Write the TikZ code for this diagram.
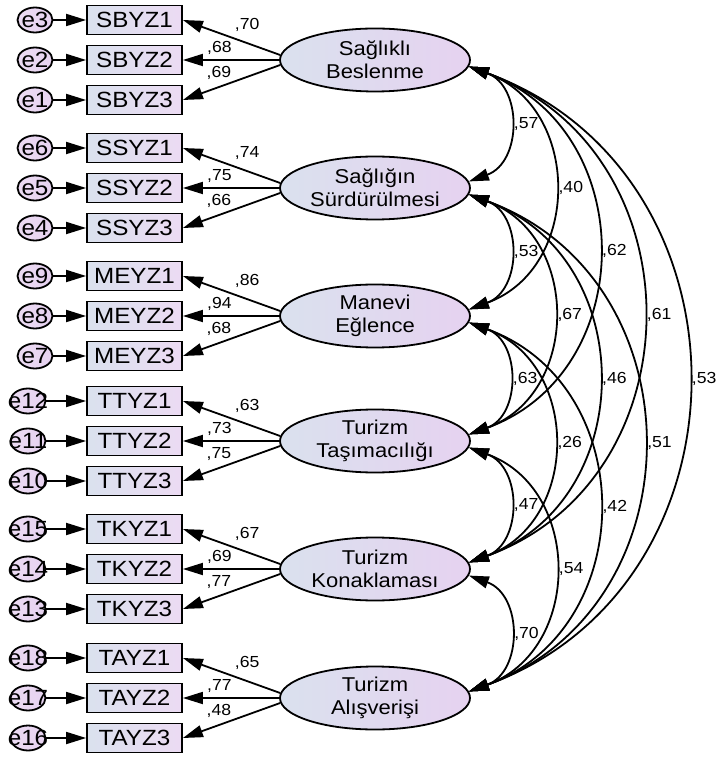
\documentclass[tikz,border=0pt]{standalone}
\usepackage{fontspec}
\setmainfont{Liberation Sans}[FakeStretch=1.1]
\usetikzlibrary{arrows.meta,shapes.geometric}

\definecolor{boxl}{RGB}{218,225,238}
\definecolor{boxr}{RGB}{236,219,243}
\definecolor{latr}{RGB}{230,210,240}

\tikzset{
  obs/.style={draw,line width=0.9pt,left color=boxl,right color=boxr,
    minimum width=47.5pt,minimum height=14.5pt,inner sep=0pt,
    font=\fontsize{11}{12}\selectfont},
  lat/.style={ellipse,draw,line width=0.9pt,left color=boxl,right color=latr,
    minimum width=95pt,minimum height=31.5pt,inner sep=0pt,align=center,
    font=\fontsize{10}{11.5}\selectfont},
  err/.style={ellipse,draw,line width=0.9pt,left color=boxr,right color=latr,
    minimum width=17.5pt,minimum height=12.5pt,inner sep=0pt,
    font=\fontsize{11}{12}\selectfont,
    execute at begin node={\hbox to 0pt\bgroup\hss},
    execute at end node={\hss\egroup}},
  lbl/.style={font=\fontsize{8}{9}\selectfont,inner sep=1pt},
  cov/.style={<->,out=-20,in=20,looseness=1.27},
}

\begin{document}
\begin{tikzpicture}[x=0.5pt,y=0.5pt,line width=0.9pt,>={Triangle[length=10pt,width=6pt]}]
\useasboundingbox (0,0) rectangle (716,-758);
% latent variables
    \node[lat] (sb) at (375,-60)  {Sağlıklı\\Beslenme};
    \node[lat] (ss) at (375,-188) {Sağlığın\\Sürdürülmesi};
    \node[lat] (me) at (375,-316) {Manevi\\Eğlence};
    \node[lat] (tt) at (375,-441) {Turizm\\Taşımacılığı};
    \node[lat] (tk) at (375,-569) {Turizm\\Konaklaması};
    \node[lat] (ta) at (375,-698) {Turizm\\Alışverişi};
% observed variables
    \node[obs] (sb1) at (134.5,-20)  {SBYZ1};
    \node[obs] (sb2) at (134.5,-60)  {SBYZ2};
    \node[obs] (sb3) at (134.5,-100) {SBYZ3};
    \node[obs] (ss1) at (134.5,-148) {SSYZ1};
    \node[obs] (ss2) at (134.5,-188) {SSYZ2};
    \node[obs] (ss3) at (134.5,-228) {SSYZ3};
    \node[obs] (me1) at (134.5,-276) {MEYZ1};
    \node[obs] (me2) at (134.5,-316) {MEYZ2};
    \node[obs] (me3) at (134.5,-356) {MEYZ3};
    \node[obs] (tt1) at (134.5,-401) {TTYZ1};
    \node[obs] (tt2) at (134.5,-441) {TTYZ2};
    \node[obs] (tt3) at (134.5,-481) {TTYZ3};
    \node[obs] (tk1) at (134.5,-529) {TKYZ1};
    \node[obs] (tk2) at (134.5,-569) {TKYZ2};
    \node[obs] (tk3) at (134.5,-609) {TKYZ3};
    \node[obs] (ta1) at (134.5,-658) {TAYZ1};
    \node[obs] (ta2) at (134.5,-698) {TAYZ2};
    \node[obs] (ta3) at (134.5,-738) {TAYZ3};
% errors
    \node[err] (e3)  at (35,-20)  {e3};
    \node[err] (e2)  at (35,-60)  {e2};
    \node[err] (e1)  at (35,-100) {e1};
    \node[err] (e6)  at (35,-148) {e6};
    \node[err] (e5)  at (35,-188) {e5};
    \node[err] (e4)  at (35,-228) {e4};
    \node[err] (e9)  at (35,-276) {e9};
    \node[err] (e8)  at (35,-316) {e8};
    \node[err] (e7)  at (35,-356) {e7};
    \node[err] (e12) at (28,-401) {e12};
    \node[err] (e11) at (28,-441) {e11};
    \node[err] (e10) at (28,-481) {e10};
    \node[err] (e15) at (28,-529) {e15};
    \node[err] (e14) at (28,-569) {e14};
    \node[err] (e13) at (28,-609) {e13};
    \node[err] (e18) at (28,-658) {e18};
    \node[err] (e17) at (28,-698) {e17};
    \node[err] (e16) at (28,-738) {e16};
% error arrows
    \draw[->] (e3) -- (sb1);  \draw[->] (e2) -- (sb2);  \draw[->] (e1) -- (sb3);
    \draw[->] (e6) -- (ss1);  \draw[->] (e5) -- (ss2);  \draw[->] (e4) -- (ss3);
    \draw[->] (e9) -- (me1);  \draw[->] (e8) -- (me2);  \draw[->] (e7) -- (me3);
    \draw[->] (e12) -- (tt1); \draw[->] (e11) -- (tt2); \draw[->] (e10) -- (tt3);
    \draw[->] (e15) -- (tk1); \draw[->] (e14) -- (tk2); \draw[->] (e13) -- (tk3);
    \draw[->] (e18) -- (ta1); \draw[->] (e17) -- (ta2); \draw[->] (e16) -- (ta3);
% loadings
    \draw[->] (sb.177) -- node[lbl,pos=0.34,yshift=9pt]{,70} (sb1.east);
    \draw[->] (sb.west) -- node[lbl,pos=0.62,yshift=6pt]{,68} (sb2.east);
    \draw[->] (sb.183) -- node[lbl,pos=0.63,yshift=7pt]{,69} (sb3.east);
    \draw[->] (ss.177) -- node[lbl,pos=0.34,yshift=9pt]{,74} (ss1.east);
    \draw[->] (ss.west) -- node[lbl,pos=0.62,yshift=6pt]{,75} (ss2.east);
    \draw[->] (ss.183) -- node[lbl,pos=0.63,yshift=7pt]{,66} (ss3.east);
    \draw[->] (me.177) -- node[lbl,pos=0.34,yshift=9pt]{,86} (me1.east);
    \draw[->] (me.west) -- node[lbl,pos=0.62,yshift=6pt]{,94} (me2.east);
    \draw[->] (me.183) -- node[lbl,pos=0.63,yshift=7pt]{,68} (me3.east);
    \draw[->] (tt.177) -- node[lbl,pos=0.34,yshift=9pt]{,63} (tt1.east);
    \draw[->] (tt.west) -- node[lbl,pos=0.62,yshift=6pt]{,73} (tt2.east);
    \draw[->] (tt.183) -- node[lbl,pos=0.63,yshift=7pt]{,75} (tt3.east);
    \draw[->] (tk.177) -- node[lbl,pos=0.34,yshift=9pt]{,67} (tk1.east);
    \draw[->] (tk.west) -- node[lbl,pos=0.62,yshift=6pt]{,69} (tk2.east);
    \draw[->] (tk.183) -- node[lbl,pos=0.63,yshift=7pt]{,77} (tk3.east);
    \draw[->] (ta.177) -- node[lbl,pos=0.34,yshift=9pt]{,65} (ta1.east);
    \draw[->] (ta.west) -- node[lbl,pos=0.62,yshift=6pt]{,77} (ta2.east);
    \draw[->] (ta.183) -- node[lbl,pos=0.63,yshift=7pt]{,48} (ta3.east);
% covariances
    \draw[cov] (sb.-4) to node[lbl,right=1pt]{,57} (ss.4);
    \draw[cov] (sb.-4) to node[lbl,right=1pt]{,40} (me.4);
    \draw[cov] (sb.-4) to node[lbl,right=1pt]{,62} (tt.4);
    \draw[cov] (sb.-4) to node[lbl,right=1pt]{,61} (tk.4);
    \draw[cov] (sb.-4) to node[lbl,right=1pt]{,53} (ta.4);
    \draw[cov] (ss.-4) to node[lbl,right=1pt]{,53} (me.4);
    \draw[cov] (ss.-4) to node[lbl,right=1pt]{,67} (tt.4);
    \draw[cov] (ss.-4) to node[lbl,right=1pt]{,46} (tk.4);
    \draw[cov] (ss.-4) to node[lbl,right=1pt]{,51} (ta.4);
    \draw[cov] (me.-4) to node[lbl,right=1pt]{,63} (tt.4);
    \draw[cov] (me.-4) to node[lbl,right=1pt]{,26} (tk.4);
    \draw[cov] (me.-4) to node[lbl,right=1pt]{,42} (ta.4);
    \draw[cov] (tt.-4) to node[lbl,right=1pt]{,47} (tk.4);
    \draw[cov] (tt.-4) to node[lbl,right=1pt]{,54} (ta.4);
    \draw[cov] (tk.-4) to node[lbl,right=1pt]{,70} (ta.4);
\end{tikzpicture}
\end{document}
